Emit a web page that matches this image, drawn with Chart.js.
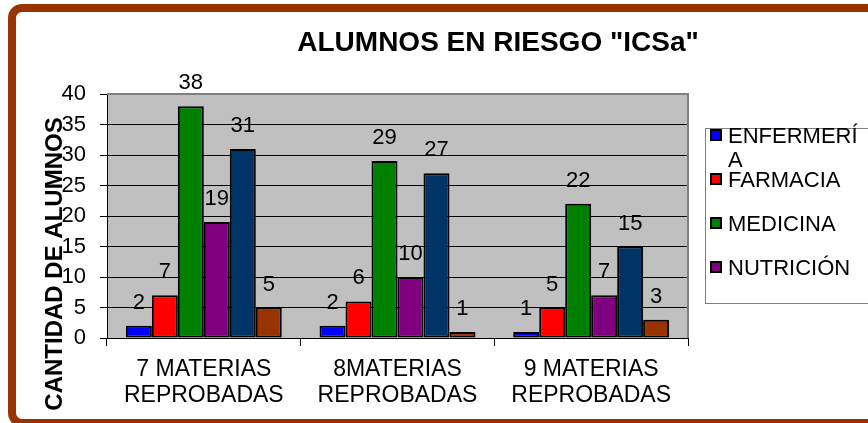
<!DOCTYPE html>
<html>
<head>
<meta charset="utf-8">
<script src="https://cdn.jsdelivr.net/npm/chart.js@4.4.1/dist/chart.umd.min.js"></script>
<style>
  html, body { margin: 0; padding: 0; background: #fff; overflow: hidden; }
  #wrap { width: 868px; height: 423px; overflow: hidden; }
  #chart { display: block; }
</style>
</head>
<body>
<div id="wrap"><canvas id="chart" width="868" height="423"></canvas></div>
<script>
// datos
let categorias = [['7 MATERIAS', 'REPROBADAS'], ['8MATERIAS', 'REPROBADAS'], ['9 MATERIAS', 'REPROBADAS']]
let enfermeria = [2, 2, 1]
let farmacia = [7, 6, 5]
let medicina = [38, 29, 22]
let nutricion = [19, 10, 7]
let odontologia = [31, 27, 15]
let psicologia = [5, 1, 3]
let yTicks = [0, 5, 10, 15, 20, 25, 30, 35, 40]

let fontFam = '"Liberation Sans", Arial, sans-serif'

function serie(label, data, color) {
    return {
        label: label,
        data: data,
        backgroundColor: color,
        borderColor: '#000',
        borderWidth: 2,
        borderSkipped: false,
        categoryPercentage: 0.805,
        barPercentage: 1
    }
}

// marco, fondo del area, titulos, etiquetas y leyenda
let decoPlugin = {
    id: 'deco',
    beforeDraw(chart) {
        let ctx = chart.ctx
        let a = chart.chartArea
        ctx.save()
        ctx.fillStyle = '#fff'
        ctx.fillRect(0, 0, chart.width, chart.height)
        ctx.strokeStyle = '#993300'
        ctx.lineWidth = 8
        ctx.beginPath()
        ctx.moveTo(1000, 8)
        ctx.lineTo(22, 8)
        ctx.arcTo(12, 8, 12, 18, 10)
        ctx.lineTo(12, 413)
        ctx.arcTo(12, 423, 22, 423, 10)
        ctx.lineTo(1000, 423)
        ctx.stroke()
        ctx.fillStyle = '#C0C0C0'
        ctx.fillRect(a.left, a.top, a.right - a.left, a.bottom - a.top)
        ctx.restore()
    },
    beforeDatasetsDraw(chart) {
        let ctx = chart.ctx
        let a = chart.chartArea
        ctx.save()
        ctx.strokeStyle = '#808080'
        ctx.lineWidth = 2
        ctx.beginPath()
        ctx.moveTo(a.left, a.top)
        ctx.lineTo(a.right, a.top)
        ctx.lineTo(a.right, a.bottom)
        ctx.stroke()
        ctx.restore()
    },
    afterDatasetsDraw(chart) {
        let ctx = chart.ctx
        ctx.save()
        ctx.fillStyle = '#000'
        ctx.font = '22px ' + fontFam
        ctx.textAlign = 'center'
        ctx.textBaseline = 'alphabetic'
        chart.data.datasets.forEach(function (ds, i) {
            chart.getDatasetMeta(i).data.forEach(function (bar, j) {
                ctx.fillText(String(ds.data[j]), bar.x, bar.y - 17)
            })
        })

        // titulo
        ctx.font = 'bold 28px ' + fontFam
        ctx.fillText('ALUMNOS EN RIESGO "ICSa"', 498, 51)

        // titulo eje y
        ctx.save()
        ctx.translate(62, 264)
        ctx.rotate(-Math.PI / 2)
        ctx.font = 'bold 24px ' + fontFam
        ctx.fillText('CANTIDAD DE ALUMNOS', 0, 0)
        ctx.restore()

        // leyenda
        let box = { left: 705, top: 128, right: 1000, bottom: 303 }
        ctx.strokeStyle = '#808080'
        ctx.lineWidth = 1
        ctx.strokeRect(box.left + 0.5, box.top + 0.5, box.right - box.left, box.bottom - box.top)
        ctx.font = '22px ' + fontFam
        ctx.textAlign = 'left'
        let maxW = 868 - 728
        let y = 143
        chart.data.datasets.forEach(function (ds) {
            // partir el texto si no cabe
            let lines = []
            let cur = ''
            for (let ch of ds.label) {
                if (ctx.measureText(cur + ch).width > maxW && cur) {
                    lines.push(cur)
                    cur = ch
                } else {
                    cur += ch
                }
            }
            lines.push(cur)
            if (y + 8 > box.bottom) return
            ctx.fillStyle = ds.backgroundColor
            ctx.fillRect(711, y - 13, 10, 10)
            ctx.strokeStyle = '#000'
            ctx.lineWidth = 2
            ctx.strokeRect(711, y - 13, 10, 10)
            ctx.fillStyle = '#000'
            lines.forEach(function (l, k) {
                ctx.fillText(l, 728, y + k * 24)
            })
            y += 44
        })
        ctx.restore()
    }
}

let chart = new Chart(document.getElementById('chart').getContext('2d'), {
    type: 'bar',
    data: {
        labels: categorias,
        datasets: [
            serie('ENFERMERÍA', enfermeria, '#0000FF'),
            serie('FARMACIA', farmacia, '#FF0000'),
            serie('MEDICINA', medicina, '#008000'),
            serie('NUTRICIÓN', nutricion, '#800080'),
            serie('ODONTOLOGÍA', odontologia, '#003366'),
            serie('PSICOLOGÍA', psicologia, '#993300')
        ]
    },
    options: {
        responsive: false,
        animation: false,
        layout: { padding: { left: 0, right: 180, top: 94, bottom: 0 } },
        plugins: {
            legend: { display: false },
            title: { display: false },
            tooltip: { enabled: false }
        },
        scales: {
            x: {
                grid: { drawOnChartArea: false, drawTicks: true, tickLength: 8, color: '#000', offset: true },
                border: { color: '#000', width: 1 },
                ticks: {
                    color: '#000',
                    font: { family: fontFam, size: 23, lineHeight: 1.13 },
                    padding: 11,
                    maxRotation: 0,
                    autoSkip: false
                },
                afterFit(scale) { scale.height = 85 }
            },
            y: {
                min: 0,
                max: 40,
                afterBuildTicks(scale) { scale.ticks = yTicks.map(v => ({ value: v })) },
                grid: { color: '#000', lineWidth: 1, tickLength: 7 },
                border: { color: '#000', width: 1 },
                ticks: {
                    color: '#000',
                    font: { family: fontFam, size: 22 },
                    padding: 14
                },
                afterFit(scale) { scale.width = 107 }
            }
        }
    },
    plugins: [decoPlugin]
})
</script>
</body>
</html>
